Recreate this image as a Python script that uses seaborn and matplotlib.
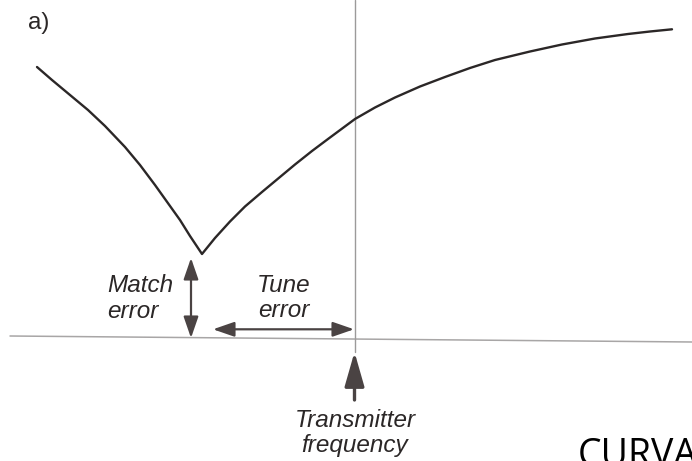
import matplotlib
matplotlib.use("Agg")
import matplotlib.pyplot as plt
from matplotlib.patches import ArrowStyle
import pandas as pd
import seaborn as sns

# Reflected-power curve vs. frequency (height above the zero line)
left_freq = [37, 52, 70, 88, 105, 125, 140, 155, 170, 180, 190, 202]
left_level = [271, 258, 243, 228, 212, 191, 173, 153, 132, 118, 102, 84]
right_freq = [202, 215, 230, 245, 262, 280, 295, 312, 328, 355, 375, 395,
              420, 445, 470, 495, 530, 562, 595, 628, 650, 672]
right_level = [84, 100, 116.5, 131.5, 146, 161, 173.5, 187, 199, 219, 230.5,
               240.5, 251.5, 261, 270, 278, 286.5, 293.5, 299.5, 304, 306.5, 308.7]

# Key frequencies and levels
resonance_freq = 202
transmitter_freq = 355
match_error = 80
zero_line_x = [10, 692]
zero_line_y = [2, -4]

curve = pd.DataFrame({
    "freq": left_freq + right_freq[1:],
    "level": left_level + right_level[1:],
})

sns.set_style("white")
plt.rcParams["font.family"] = ["Liberation Sans", "DejaVu Sans"]

fig = plt.figure(figsize=(6.92, 4.61), dpi=100)
ax = fig.add_axes([0, 0, 1, 1])
ax.set_xlim(0, 692)
ax.set_ylim(-123, 338)
ax.set_axis_off()

ink = "#2b2727"
arrow_ink = "#4a4343"

# zero line and transmitter-frequency marker
ax.plot(zero_line_x, zero_line_y, color="#a8a6a6", lw=1.1, zorder=1)
ax.plot([transmitter_freq, transmitter_freq], [338, -14], color="#9c9a9a",
        lw=1.0, zorder=1)

sns.lineplot(data=curve, x="freq", y="level", ax=ax, color=ink, lw=1.7,
             estimator=None, sort=True, zorder=3)

dbl = ArrowStyle("<|-|>", head_length=1.3, head_width=0.45)
# match error: from the curve minimum down to the zero line
ax.annotate("", xy=(191, 0), xytext=(191, match_error),
            arrowprops=dict(arrowstyle=dbl, mutation_scale=10, color=arrow_ink,
                            lw=1.6, shrinkA=0, shrinkB=0))
# tune error: from resonance to the transmitter frequency
ax.annotate("", xy=(213, 8.7), xytext=(transmitter_freq - 1, 8.7),
            arrowprops=dict(arrowstyle=dbl, mutation_scale=10, color=arrow_ink,
                            lw=1.6, shrinkA=0, shrinkB=0))
# transmitter frequency pointer
single = ArrowStyle("-|>", head_length=2.1, head_width=0.6)
ax.annotate("", xy=(354.5, -14), xytext=(354.5, -62),
            arrowprops=dict(arrowstyle=single, mutation_scale=10, color=arrow_ink,
                            lw=2.4, shrinkA=0, shrinkB=0))

label_kw = dict(fontsize=17.5, style="italic", color=ink, va="baseline")
ax.text(107, 338 - 292, "Match", ha="left", **label_kw)
ax.text(107, 338 - 318, "error", ha="left", **label_kw)
ax.text(284, 338 - 292, "Tune", ha="center", **label_kw)
ax.text(284, 338 - 317, "error", ha="center", **label_kw)
ax.text(355, 338 - 427, "Transmitter", ha="center", **label_kw)
ax.text(355, 338 - 452, "frequency", ha="center", **label_kw)

ax.text(28, 315, "a)", fontsize=17.5, color=ink, ha="left", va="center")

fig.text(578 / 692, -5 / 461, "CURVA", fontsize=27, color="black",
         family=["Open Sans", "DejaVu Sans"], ha="left", va="baseline")

fig.savefig("out.png", dpi=100)
